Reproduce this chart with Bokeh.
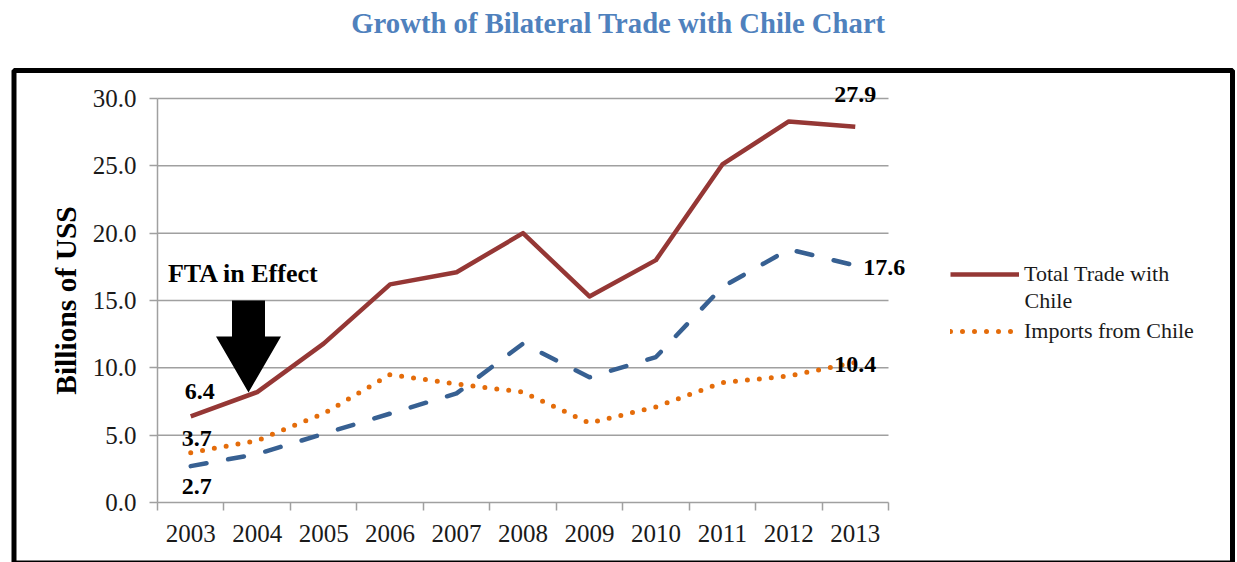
import math
from bokeh.plotting import figure
from bokeh.models import (Range1d, FixedTicker, Label, BoxAnnotation, Legend, LegendItem,
                          LinearAxis)
from bokeh.embed import file_html
from bokeh.resources import INLINE

# ---------------- data ----------------
years = ["2003", "2004", "2005", "2006", "2007", "2008", "2009", "2010", "2011", "2012", "2013"]
total_trade = [6.4, 8.2, 11.8, 16.2, 17.1, 20.0, 15.3, 18.0, 25.1, 28.3, 27.9]
us_exports = [2.7, 3.6, 5.1, 6.6, 8.1, 11.8, 9.3, 10.8, 16.0, 18.8, 17.6]
imports_from_chile = [3.7, 4.6, 6.6, 9.5, 8.8, 8.2, 5.9, 7.1, 8.9, 9.4, 10.4]
y_ticks = [0, 5, 10, 15, 20, 25, 30]

title_text = "Growth of Bilateral Trade with Chile Chart"
y_title = "Billions of USS"
fta_text = "FTA in Effect"
legend_total = ["Total Trade with", "Chile"]
legend_imports = "Imports from Chile"

# ---------------- layout (canvas px) ----------------
W, H = 1237, 562
F_LEFT, F_RIGHT, F_TOP, F_BOTTOM = 157, 888, 98, 502  # plotting area
N = len(years)
YMAX = y_ticks[-1]


def X(px):
    return (px - F_LEFT) * N / (F_RIGHT - F_LEFT)


def Y(py):
    return (F_BOTTOM - py) * YMAX / (F_BOTTOM - F_TOP)


SERIF = "Liberation Serif"
GRID = "#a0a0a0"
TXT = "#1a1a1a"
C_TOTAL = "#953735"
C_EXP = "#376092"
C_IMP = "#E46C0A"

p = figure(
    width=W, height=H,
    x_range=Range1d(X(0), X(W)), y_range=Range1d(Y(H), Y(0)),
    output_backend="svg", toolbar_location=None,
    x_axis_location=None, y_axis_location=None,
    min_border=0, background_fill_color="white", border_fill_color="white",
)
p.outline_line_color = None
p.title.visible = False
p.xgrid.visible = False
p.ygrid.visible = False

xs = [i + 0.5 for i in range(N)]

# x axis at y = 0: labels at category centres, tick marks between categories
xa = LinearAxis(fixed_location=0, bounds=(0, N))
xa.ticker = FixedTicker(ticks=xs, minor_ticks=list(range(N + 1)))
xa.major_label_overrides = {x: y for x, y in zip(xs, years)}
xa.major_tick_out = 0
xa.major_tick_in = 0
xa.minor_tick_out = 8
xa.minor_tick_in = 0
xa.axis_line_color = GRID
xa.axis_line_width = 1.5
xa.minor_tick_line_color = GRID
xa.minor_tick_line_width = 1.5
xa.major_label_text_font = SERIF
xa.major_label_text_font_size = "25px"
xa.major_label_text_color = TXT
xa.major_label_standoff = 14
p.add_layout(xa, "below")

ya = LinearAxis(fixed_location=0, bounds=(0, YMAX))
ya.ticker = FixedTicker(ticks=y_ticks, minor_ticks=[])
ya.major_label_overrides = {v: f"{v:.1f}" for v in y_ticks}
ya.major_tick_out = 8
ya.major_tick_in = 0
ya.minor_tick_line_color = None
ya.axis_line_color = GRID
ya.axis_line_width = 1.5
ya.major_tick_line_color = GRID
ya.major_tick_line_width = 1.5
ya.major_label_text_font = SERIF
ya.major_label_text_font_size = "25px"
ya.major_label_text_color = TXT
ya.major_label_standoff = 13
p.add_layout(ya, "left")

# horizontal gridlines across the category span
gl = y_ticks[1:]
p.segment(x0=[0] * len(gl), x1=[N] * len(gl), y0=gl, y1=gl, line_color=GRID, line_width=1.5)

# ---------------- series ----------------
r_imp = p.line(xs, imports_from_chile, line_color=C_IMP, line_width=5,
               line_dash="0 12", line_cap="round")
r_exp = p.line(xs, us_exports, line_color=C_EXP, line_width=4.5,
               line_dash="16 22", line_cap="round", line_join="round")
r_total = p.line(xs, total_trade, line_color=C_TOTAL, line_width=4.5, line_join="round")

# ---------------- FTA arrow ----------------
tip_px = (248, 392)
head_w, head_l, shaft_w, shaft_top = 65, 56, 33, 300
ax_px = [tip_px[0], tip_px[0] - head_w / 2, tip_px[0] - shaft_w / 2, tip_px[0] - shaft_w / 2,
         tip_px[0] + shaft_w / 2, tip_px[0] + shaft_w / 2, tip_px[0] + head_w / 2]
ay_px = [tip_px[1], tip_px[1] - head_l, tip_px[1] - head_l, shaft_top,
         shaft_top, tip_px[1] - head_l, tip_px[1] - head_l]
p.patch([X(v) for v in ax_px], [Y(v) for v in ay_px], fill_color="black", line_color=None)

p.add_layout(Label(x=X(243), y=Y(273), text=fta_text, text_font=SERIF, text_font_style="bold",
                   text_font_size="26px", text_color="black", text_align="center",
                   text_baseline="middle"))

# ---------------- data labels ----------------
def dlabel(x, yv, dx, dy):
    p.add_layout(Label(x=x, y=yv, text=f"{yv:.1f}", x_offset=dx, y_offset=dy,
                       text_font=SERIF, text_font_style="bold", text_font_size="24px",
                       text_color="black", text_align="center", text_baseline="middle"))


dlabel(xs[0], total_trade[0], 9, 25)
dlabel(xs[0], imports_from_chile[0], 6, 14)
dlabel(xs[0], us_exports[0], 6, -20)
dlabel(xs[-1], total_trade[-1], 0, 32)
dlabel(xs[-1], us_exports[-1], 29, -2)
dlabel(xs[-1], imports_from_chile[-1], 0, -2)

# ---------------- legend ----------------
legend = Legend(
    items=[LegendItem(label=legend_total[0], renderers=[r_total]),
           LegendItem(label=legend_imports, renderers=[r_imp])],
    location=(950, H - 344),
    orientation="vertical",
    glyph_width=69, glyph_height=26, label_height=26, label_standoff=5,
    spacing=31, padding=0, margin=0,
    border_line_color=None, background_fill_alpha=0,
    label_text_font=SERIF, label_text_font_size="22px", label_text_color=TXT,
)
p.add_layout(legend)
p.add_layout(Label(x=X(1024), y=Y(300), text=legend_total[1], text_font=SERIF,
                   text_font_size="22px", text_color=TXT, text_align="left",
                   text_baseline="middle"))

# ---------------- titles ----------------
p.add_layout(Label(x=X(65), y=Y(300), text=y_title, angle=math.pi / 2, text_font=SERIF,
                   text_font_style="bold", text_font_size="29.5px", text_color="black",
                   text_align="center", text_baseline="middle"))
p.add_layout(Label(x=X(618), y=Y(22), text=title_text, text_font=SERIF,
                   text_font_style="bold", text_font_size="28.7px", text_color="#4F81BD",
                   text_align="center", text_baseline="middle"))

# ---------------- outer frame ----------------
p.add_layout(BoxAnnotation(left=X(13.5), right=X(1232), top=Y(70), bottom=Y(562.5),
                           fill_color=None, fill_alpha=0, line_color="black", line_width=5,
                           line_alpha=1))

open("out.html", "w").write(file_html(p, INLINE))
